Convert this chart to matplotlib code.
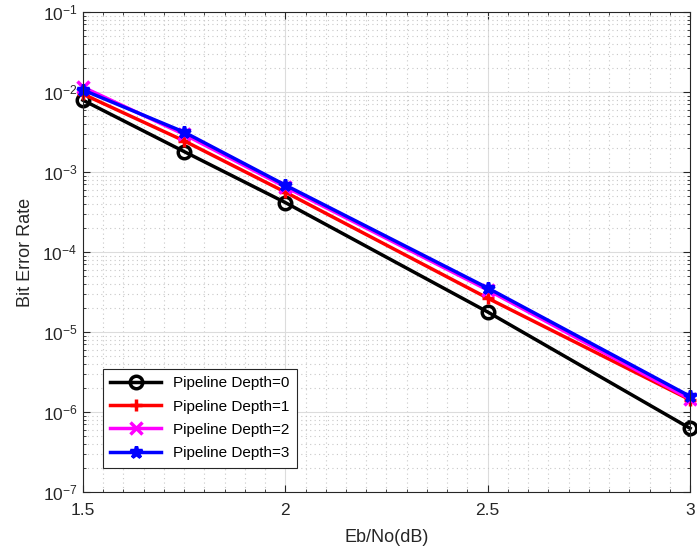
import numpy as np
import matplotlib
matplotlib.use("Agg")
import matplotlib.pyplot as plt
from matplotlib.ticker import MultipleLocator, LogLocator, NullFormatter

plt.rcParams['font.family'] = ['Liberation Sans', 'DejaVu Sans']
plt.rcParams['mathtext.fontset'] = 'custom'
plt.rcParams['mathtext.rm'] = 'Liberation Sans'

ebno = [1.5, 1.75, 2.0, 2.5, 3.0]
ber_depth0 = [7.9e-3, 1.8e-3, 4.15e-4, 1.78e-5, 6.25e-7]
ber_depth1 = [9.4e-3, 2.45e-3, 5.6e-4, 2.65e-5, 1.42e-6]
ber_depth2 = [1.15e-2, 2.95e-3, 6.5e-4, 3.35e-5, 1.45e-6]
ber_depth3 = [1.06e-2, 3.15e-3, 6.85e-4, 3.55e-5, 1.57e-6]

labels = ['Pipeline Depth=0', 'Pipeline Depth=1', 'Pipeline Depth=2', 'Pipeline Depth=3']
colors = ['black', 'red', 'magenta', 'blue']
markers = ['o', '+', 'x', '*']

fig = plt.figure(figsize=(6.97, 5.57), dpi=100)
ax = fig.add_axes([0.119, 0.1167, 0.871, 0.8618])

series = [ber_depth0, ber_depth1, ber_depth2, ber_depth3]
for ys, lab, c, m in zip(series, labels, colors, markers):
    ax.semilogy(ebno, ys, color=c, marker=m, markersize=9, linewidth=2.5,
                markerfacecolor='none', markeredgewidth=2.5, label=lab, clip_on=False)

ax.set_xlim(1.5, 3)
ax.set_ylim(1e-7, 1e-1)
ax.set_xticks([1.5, 2, 2.5, 3])
ax.set_xticklabels(['1.5', '2', '2.5', '3'])
ax.xaxis.set_minor_locator(MultipleLocator(0.05))
ax.yaxis.set_major_locator(LogLocator(base=10, numticks=10))
ax.yaxis.set_minor_locator(LogLocator(base=10, subs=np.arange(2, 10), numticks=20))
ax.yaxis.set_minor_formatter(NullFormatter())

ax.grid(True, which='major', color='#dcdcdc', linestyle='-', linewidth=0.8)
ax.grid(True, which='minor', color='#c8c8c8', linestyle=(0, (1, 3)), linewidth=0.8)
ax.set_axisbelow(True)

ax.tick_params(which='both', direction='in', top=True, right=True, colors='#262626', labelsize=12.5)
ax.tick_params(axis='x', which='major', pad=8)
ax.tick_params(axis='y', which='major', pad=4)
ax.tick_params(which='major', length=5)
ax.tick_params(which='minor', length=2.5)
for sp in ax.spines.values():
    sp.set_color('#262626')
    sp.set_linewidth(0.8)

ax.set_xlabel('Eb/No(dB)', fontsize=13, color='#262626', labelpad=8)
ax.set_ylabel('Bit Error Rate', fontsize=13, color='#262626', labelpad=6)

leg = ax.legend(loc='lower left', bbox_to_anchor=(0.02, 0.035), fontsize=11,
                fancybox=False, edgecolor='#262626', framealpha=1,
                handlelength=3.3, borderpad=0.5, labelspacing=0.6)
leg.get_frame().set_linewidth(0.8)

fig.savefig('out.png', dpi=100)
